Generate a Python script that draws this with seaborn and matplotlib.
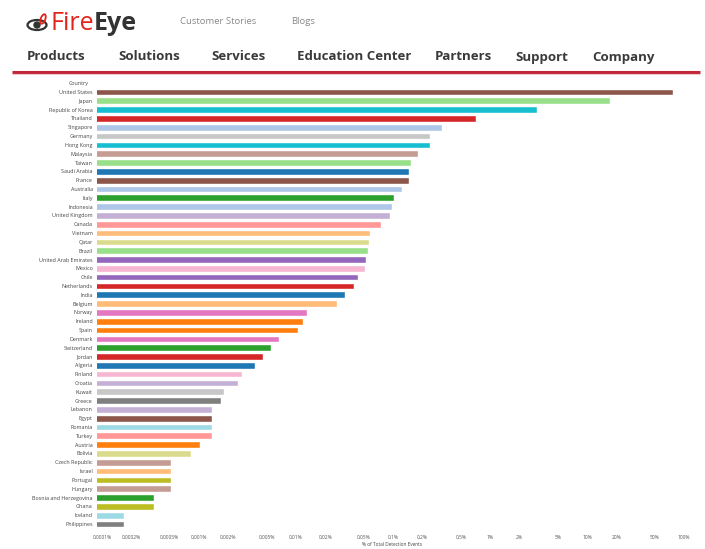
import matplotlib
matplotlib.use("Agg")
import matplotlib.pyplot as plt
import seaborn as sns
import pandas as pd
from matplotlib.patches import Ellipse, Circle

countries = [
    "United States", "Japan", "Republic of Korea", "Thailand", "Singapore",
    "Germany", "Hong Kong", "Malaysia", "Taiwan", "Saudi Arabia",
    "France", "Australia", "Italy", "Indonesia", "United Kingdom",
    "Canada", "Vietnam", "Qatar", "Brazil", "United Arab Emirates",
    "Mexico", "Chile", "Netherlands", "India", "Belgium",
    "Norway", "Ireland", "Spain", "Denmark", "Switzerland",
    "Jordan", "Algeria", "Finland", "Croatia", "Kuwait",
    "Greece", "Lebanon", "Egypt", "Romania", "Turkey",
    "Austria", "Bolivia", "Czech Republic", "Israel", "Portugal",
    "Hungary", "Bosnia and Herzegovina", "Ghana", "Iceland", "Philippines",
]

# share of all detection events, in percent
share_pct = [
    77.0, 17.3, 3.05, 0.72, 0.32,
    0.24, 0.24, 0.18, 0.153, 0.146,
    0.146, 0.124, 0.102, 0.098, 0.093,
    0.075, 0.058, 0.057, 0.055, 0.053,
    0.052, 0.044, 0.040, 0.032, 0.0265,
    0.013, 0.0118, 0.0105, 0.0067, 0.0055,
    0.0046, 0.0038, 0.0028, 0.0025, 0.0018,
    0.0017, 0.00136, 0.00136, 0.00136, 0.00136,
    0.00102, 0.00083, 0.00052, 0.00052, 0.00052,
    0.00052, 0.00034, 0.00034, 0.00017, 0.00017,
]

bar_colors = [
    "#8c564b", "#98df8a", "#17becf", "#d62728", "#aec7e8",
    "#c7c7c7", "#17becf", "#c49c94", "#98df8a", "#1f77b4",
    "#8c564b", "#aec7e8", "#2ca02c", "#aec7e8", "#c5b0d5",
    "#ff9896", "#ffbb78", "#dbdb8d", "#98df8a", "#9467bd",
    "#f7b6d2", "#9467bd", "#d62728", "#1f77b4", "#ffbb78",
    "#e377c2", "#ff7f0e", "#ff7f0e", "#e377c2", "#2ca02c",
    "#d62728", "#1f77b4", "#f7b6d2", "#c5b0d5", "#c7c7c7",
    "#7f7f7f", "#c5b0d5", "#8c564b", "#9edae5", "#ff9896",
    "#ff7f0e", "#dbdb8d", "#c49c94", "#ffbb78", "#bcbd22",
    "#c49c94", "#2ca02c", "#bcbd22", "#9edae5", "#7f7f7f",
]

tick_values = [0.0001, 0.0002, 0.0005, 0.001, 0.002, 0.005, 0.01, 0.02, 0.05,
               0.1, 0.2, 0.5, 1, 2, 5, 10, 20, 50, 100]
tick_labels = ["0.0001%", "0.0002%", "0.0005%", "0.001%", "0.002%", "0.005%",
               "0.01%", "0.02%", "0.05%", "0.1%", "0.2%", "0.5%", "1%", "2%",
               "5%", "10%", "20%", "50%", "100%"]

nav_items = ["Products", "Solutions", "Services", "Education Center",
             "Partners", "Support", "Company"]
nav_x = [27, 118, 211, 297, 435, 515, 592]

df = pd.DataFrame({"Country": countries, "Share": share_pct})

sns.set_theme(style="white")
plt.rcParams["font.family"] = ["Open Sans", "DejaVu Sans"]

W, H = 705, 549
fig = plt.figure(figsize=(W / 100, H / 100), dpi=100)
fig.patch.set_facecolor("white")

# chart area in pixel coordinates
left, right, top, bottom = 97, 688, 87.6, 528.4
ax = fig.add_axes([left / W, 1 - bottom / H, (right - left) / W, (bottom - top) / H])
ax.set_xscale("log")
sns.barplot(data=df, x="Share", y="Country", hue="Country",
            palette=dict(zip(countries, bar_colors)), orient="h",
            width=0.76, legend=False, ax=ax, saturation=1)
ax.set_xlim(8.87e-5, 110)
ax.set_ylim(len(countries) - 0.5, -0.5)
for s in ax.spines.values():
    s.set_visible(False)
ax.grid(False)
ax.set_xticks(tick_values)
ax.set_xticklabels(tick_labels)
ax.minorticks_off()
ax.tick_params(axis="x", length=0, pad=5, labelsize=3.5, labelcolor="#555555")
ax.tick_params(axis="y", length=0, pad=3, labelsize=3.9, labelcolor="#444444")
ax.set_ylabel("")
ax.set_xlabel("% of Total Detection Events", fontsize=3.4, color="#444444", labelpad=1)

fig.text(89 / W, 1 - 83 / H, "Country", fontsize=3.9, color="#444444",
         ha="right", va="center")

# site header
fire = fig.text(50 / W, 1 - 24 / H, "Fire", fontsize=18, color="#e2231a",
                ha="left", va="center")
fig.canvas.draw()
bb = fire.get_window_extent()
fig.text(bb.x1 / W, 1 - 24 / H, "Eye", fontsize=18, color="#333333",
         ha="left", va="center", fontweight="bold")
icon = fig.add_axes([26 / W, 1 - 35 / H, 24 / W, 24 / H])
icon.set_xlim(0, 24)
icon.set_ylim(0, 24)
icon.axis("off")
icon.add_patch(Ellipse((11, 10), 19, 10, fill=False, lw=1.6, ec="#333333"))
icon.add_patch(Circle((11, 10), 3.0, color="#333333"))
icon.add_patch(Ellipse((17, 16), 4.5, 10, angle=-20, fill=False, lw=1.3, ec="#e2231a"))

fig.text(180 / W, 1 - 22 / H, "Customer Stories", fontsize=6.8, color="#8a8a8a",
         ha="left", va="center")
fig.text(291 / W, 1 - 22 / H, "Blogs", fontsize=6.8, color="#8a8a8a",
         ha="left", va="center")
for name, x in zip(nav_items, nav_x):
    fig.text(x / W, 1 - 57 / H, name, fontsize=9.5, color="#3a3a3a",
             ha="left", va="center", fontweight="bold")

line_ax = fig.add_axes([0, 0, 1, 1], zorder=-1)
line_ax.set_xlim(0, W)
line_ax.set_ylim(H, 0)
line_ax.axis("off")
line_ax.plot([12, 700], [72, 72], color="#c0283a", lw=2.2, solid_capstyle="butt")
line_ax.plot([12, 700], [74, 74], color="#f0c8cc", lw=0.8, solid_capstyle="butt")

fig.savefig("out.png", dpi=100, facecolor="white")
